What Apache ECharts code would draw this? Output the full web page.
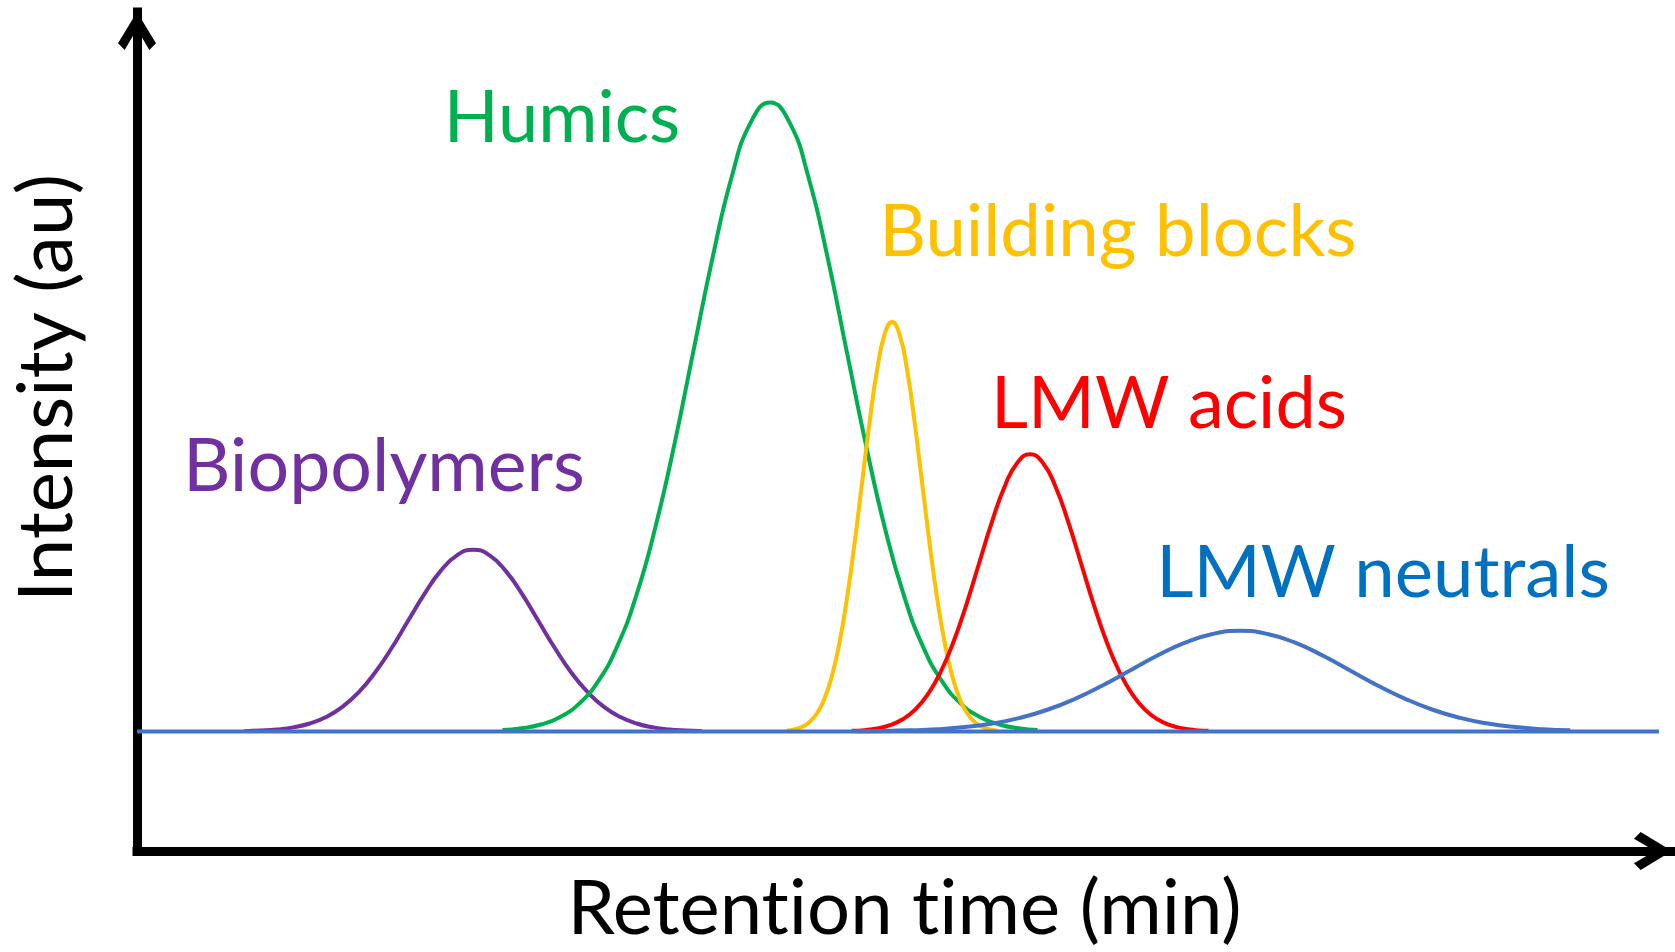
<!DOCTYPE html>
<html>
<head>
<meta charset="utf-8">
<script src="https://cdn.jsdelivr.net/npm/echarts@6/dist/echarts.min.js"></script>
<style>
html,body{margin:0;padding:0;background:#fff;}
#chart{width:1675px;height:952px;}
</style>
</head>
<body>
<div id="chart"></div>
<script>
// Peak names
const peakNames = ['Biopolymers', 'Humics', 'Building blocks', 'LMW acids', 'LMW neutrals'];

// Retention time (arbitrary units, 0..100) and intensity (au, baseline = 0)
const bioTime = [6.99, 8.06, 9.12, 10.19, 11.25, 12.32, 13.38, 14.45, 15.51, 16.58, 17.64, 18.71, 19.77, 20.84, 21.9, 22.97, 24.03, 25.10, 26.16, 27.23, 28.29, 29.36, 30.42, 31.49, 32.55, 33.62, 34.68, 35.75, 36.81];
const bioIntensity = [0.06, 0.15, 0.32, 0.66, 1.27, 2.30, 3.91, 6.25, 9.38, 13.23, 17.53, 21.81, 25.50, 28.01, 28.9, 28.01, 25.50, 21.81, 17.53, 13.23, 9.38, 6.25, 3.91, 2.30, 1.27, 0.66, 0.32, 0.15, 0.06];

const humTime = [23.81, 25.06, 26.30, 27.55, 28.79, 30.04, 31.28, 32.53, 33.77, 35.02, 36.26, 37.51, 38.75, 40.00, 41.24, 42.49, 43.73, 44.98, 46.22, 47.47, 48.71, 49.96, 51.20, 52.45, 53.69, 54.94, 56.18, 57.43, 58.67];
const humIntensity = [0.22, 0.51, 1.11, 2.28, 4.39, 7.96, 13.53, 21.63, 32.47, 45.78, 60.65, 75.48, 88.25, 96.92, 100, 96.92, 88.25, 75.48, 60.65, 45.78, 32.47, 21.63, 13.53, 7.96, 4.39, 2.28, 1.11, 0.51, 0.22];

const bbTime = [42.33, 42.82, 43.31, 43.80, 44.29, 44.78, 45.27, 45.76, 46.25, 46.74, 47.23, 47.72, 48.21, 48.70, 49.19, 49.68, 50.17, 50.66, 51.15, 51.64, 52.13, 52.62, 53.11, 53.60, 54.09, 54.58, 55.07, 55.56, 56.05];
const bbIntensity = [0.14, 0.33, 0.72, 1.48, 2.86, 5.18, 8.81, 14.08, 21.14, 29.80, 39.48, 49.14, 57.45, 63.10, 65.1, 63.10, 57.45, 49.14, 39.48, 29.80, 21.14, 14.08, 8.81, 5.18, 2.86, 1.48, 0.72, 0.33, 0.14];

const acidTime = [46.56, 47.39, 48.22, 49.05, 49.88, 50.71, 51.54, 52.37, 53.20, 54.03, 54.86, 55.69, 56.52, 57.35, 58.18, 59.01, 59.84, 60.67, 61.50, 62.33, 63.16, 63.99, 64.82, 65.65, 66.48, 67.31, 68.14, 68.97, 69.80];
const acidIntensity = [0.10, 0.22, 0.49, 1.01, 1.94, 3.51, 5.97, 9.54, 14.32, 20.19, 26.75, 33.29, 38.92, 42.74, 44.1, 42.74, 38.92, 33.29, 26.75, 20.19, 14.32, 9.54, 5.97, 3.51, 1.94, 1.01, 0.49, 0.22, 0.10];

const neutTime = [46.77, 48.56, 50.35, 52.14, 53.94, 55.73, 57.52, 59.31, 61.11, 62.90, 64.69, 66.48, 68.28, 70.07, 71.86, 73.65, 75.45, 77.24, 79.03, 80.82, 82.62, 84.41, 86.20, 87.99, 89.79, 91.58, 93.37];
const neutIntensity = [0.04, 0.08, 0.18, 0.36, 0.70, 1.27, 2.16, 3.46, 5.20, 7.32, 9.70, 12.08, 14.12, 15.51, 16.0, 15.51, 14.12, 12.08, 9.70, 7.32, 5.20, 3.46, 2.16, 1.27, 0.70, 0.36, 0.18];

const baseTime = [0, 99.15];
const baseIntensity = [0, 0];

// U+200C keeps the font from joining "ti" into a ligature
const xTitle = 'Retent\u200Cion t\u200Cime (min)';
const yTitle = 'Intensity (au)';

const pairs = (xs, ys) => xs.map((x, i) => [x, ys[i]]);

const FONT = 'Lato, "Open Sans", sans-serif';
const chevron = 'path://M20,0 L40,33 L33,40 L20,18 L7,40 L0,33 Z';

const chart = echarts.init(document.getElementById('chart'), null, {renderer: 'canvas'});

function curve(name, xs, ys, color, width) {
  return {
    name: name,
    type: 'line',
    data: pairs(xs, ys),
    showSymbol: false,
    smooth: 0.5,
    lineStyle: {color: color, width: width},
    itemStyle: {color: color},
    silent: true,
    animation: false
  };
}

const option = {
  backgroundColor: '#ffffff',
  animation: false,
  grid: {left: 137, right: 3, top: 12, bottom: 100, containLabel: false},
  xAxis: {
    type: 'value', min: 0, max: 100,
    name: xTitle, nameLocation: 'middle', nameGap: 20,
    nameTextStyle: {fontFamily: FONT, fontSize: 76, color: '#000', verticalAlign: 'top'},
    axisLine: {show: true, onZero: false, symbol: ['none', chevron], symbolSize: [38, 38], symbolOffset: [0, -19],
      lineStyle: {color: '#000', width: 9, cap: 'square'}},
    axisTick: {show: false}, axisLabel: {show: false}, splitLine: {show: false}
  },
  yAxis: {
    type: 'value', min: -19, max: 114.4,
    axisLine: {show: true, onZero: false, symbol: ['none', chevron], symbolSize: [38, 38], symbolOffset: [0, -19],
      lineStyle: {color: '#000', width: 9, cap: 'square'}},
    axisTick: {show: false}, axisLabel: {show: false}, splitLine: {show: false}
  },
  graphic: [
    {type: 'text', x: 47, y: 388, rotation: Math.PI / 2,
      style: {text: yTitle, font: '76px ' + FONT, fill: '#000', align: 'center', verticalAlign: 'middle'}},
    {type: 'text', x: 384, y: 467, style: {text: peakNames[0], font: '73.5px ' + FONT, fill: '#7030A0', align: 'center', verticalAlign: 'middle'}},
    {type: 'text', x: 562, y: 119, style: {text: peakNames[1], font: '72px ' + FONT, fill: '#00B050', align: 'center', verticalAlign: 'middle'}},
    {type: 'text', x: 1118, y: 233, style: {text: peakNames[2], font: '72.5px ' + FONT, fill: '#FFC000', align: 'center', verticalAlign: 'middle'}},
    {type: 'text', x: 1169, y: 405, style: {text: peakNames[3], font: '72px ' + FONT, fill: '#FF0000', align: 'center', verticalAlign: 'middle'}},
    {type: 'text', x: 1383, y: 574, style: {text: peakNames[4], font: '72.5px ' + FONT, fill: '#0070C0', align: 'center', verticalAlign: 'middle'}}
  ],
  series: [
    curve(peakNames[0], bioTime, bioIntensity, '#7030A0', 4),
    curve(peakNames[1], humTime, humIntensity, '#00B050', 4),
    curve(peakNames[2], bbTime, bbIntensity, '#FFC000', 4),
    curve(peakNames[3], acidTime, acidIntensity, '#FF0000', 4),
    curve(peakNames[4], neutTime, neutIntensity, '#4472C4', 4),
    curve('baseline', baseTime, baseIntensity, '#4472C4', 4)
  ]
};
chart.setOption(option);
</script>
</body>
</html>
